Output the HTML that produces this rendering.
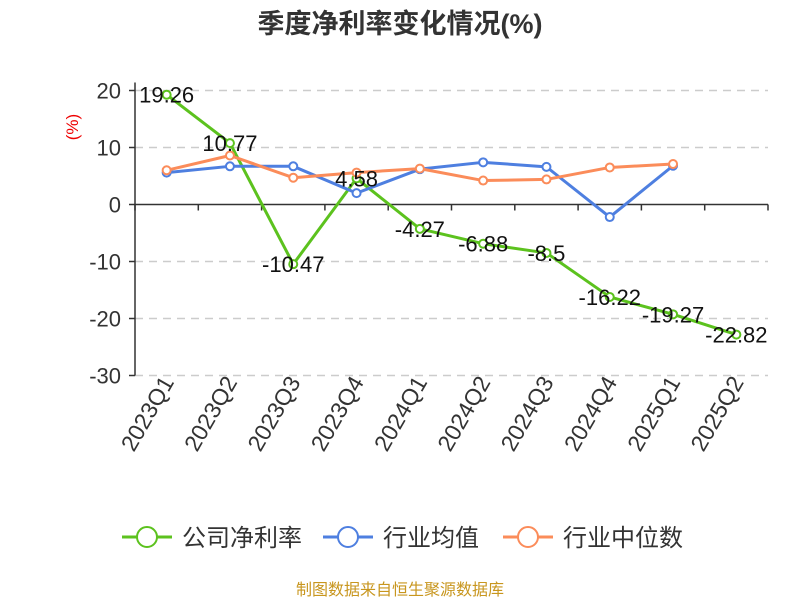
<!DOCTYPE html>
<html><head><meta charset="utf-8"><style>
body{margin:0;background:#fff;width:800px;height:600px;overflow:hidden}
text{font-family:"Liberation Sans","Noto Sans CJK SC",sans-serif}
</style></head><body>
<svg id="c" width="800" height="600"></svg>
<script>
const categories=["2023Q1","2023Q2","2023Q3","2023Q4","2024Q1","2024Q2","2024Q3","2024Q4","2025Q1","2025Q2"];
const companyValues=[19.26,10.77,-10.47,4.58,-4.27,-6.88,-8.5,-16.22,-19.27,-22.82];
const industryAvg=[5.6,6.7,6.7,2.0,6.2,7.4,6.6,-2.2,6.8,null];
const industryMedian=[6.0,8.6,4.7,5.6,6.3,4.2,4.4,6.5,7.1,null];
const yTicks=[20,10,0,-10,-20,-30];
const svg=document.getElementById('c');const NS='http://www.w3.org/2000/svg';
function mk(t,a,p){const e=document.createElementNS(NS,t);for(const k in a)e.setAttribute(k,a[k]);(p||svg).appendChild(e);return e;}
const x0=135,x1=768,bw=(x1-x0)/categories.length;
const xs=i=>x0+bw*(i+0.5);
const ys=v=>204.5-(v)*(204.5-90.5)/20;
let t=mk('text',{x:400,y:33,'text-anchor':'middle','font-size':27,'font-weight':'bold',fill:'#333'});t.textContent='季度净利率变化情况(%)';


t=mk('text',{x:78,y:127,'text-anchor':'middle','font-size':17,fill:'#e00',transform:'rotate(-90 78 127)'});t.textContent='(%)';


yTicks.forEach(v=>{const y=ys(v);
 if(v!==0){const g=mk('line',{x1:x0,x2:x1,y1:y,y2:y,stroke:'#ccc','stroke-dasharray':'8,6','stroke-width':1.5});}
 mk('line',{x1:x0-6,x2:x0,y1:y,y2:y,stroke:'#333','stroke-width':1.5});
 const l=mk('text',{x:x0-14,y:y+8,'text-anchor':'end','font-size':22,fill:'#333'});l.textContent=v;
 
 
});
let a=mk('line',{x1:x0,x2:x0,y1:ys(20)-8,y2:ys(-30),stroke:'#333','stroke-width':1.5});
a=mk('line',{x1:x0,x2:x1,y1:ys(0),y2:ys(0),stroke:'#333','stroke-width':1.5});
for(let i=0;i<=categories.length;i++)mk('line',{x1:x0+bw*i,x2:x0+bw*i,y1:ys(0),y2:ys(0)+6,stroke:'#333','stroke-width':1.5});
categories.forEach((c,i)=>{const x=xs(i)+8,y=382;const l=mk('text',{x:x,y:y,'text-anchor':'end','font-size':23,fill:'#333',transform:`rotate(-60 ${x} ${y})`});l.textContent=c;
 
 });
function series(vals,color,name){
 const pts=vals.map((v,i)=>v==null?null:[xs(i),ys(v)]).filter(p=>p);
 const p=mk('polyline',{points:pts.map(q=>q.join(',')).join(' '),fill:'none',stroke:color,'stroke-width':3,'stroke-linejoin':'round'});
 
 
 vals.forEach((v,i)=>{if(v==null)return;const c=mk('circle',{cx:xs(i),cy:ys(v),r:4,fill:'#fff',stroke:color,'stroke-width':2});
  
  
 });
}
series(companyValues,'#5cc21e','company');
series(industryAvg,'#4e7fe0','industry-avg');
series(industryMedian,'#fb8c5a','industry-median');
companyValues.forEach((v,i)=>{const l=mk('text',{x:xs(i),y:ys(v)+8,'text-anchor':'middle','font-size':22,fill:'#111'});l.textContent=v;
 
 });
const leg=[['公司净利率','#5cc21e',122],['行业均值','#4e7fe0',323],['行业中位数','#fb8c5a',503]];
leg.forEach(([n,c,x])=>{const g=mk('g',{});
 mk('line',{x1:x,x2:x+50,y1:537,y2:537,stroke:c,'stroke-width':3},g);
 mk('circle',{cx:x+25,cy:537,r:10,fill:'#fff',stroke:c,'stroke-width':2},g);
 const l=mk('text',{x:x+60,y:546,'font-size':24,fill:'#333'},g);l.textContent=n;});
t=mk('text',{x:400,y:595,'text-anchor':'middle','font-size':16,fill:'#c8961e'});t.textContent='制图数据来自恒生聚源数据库';


</script></body></html>
